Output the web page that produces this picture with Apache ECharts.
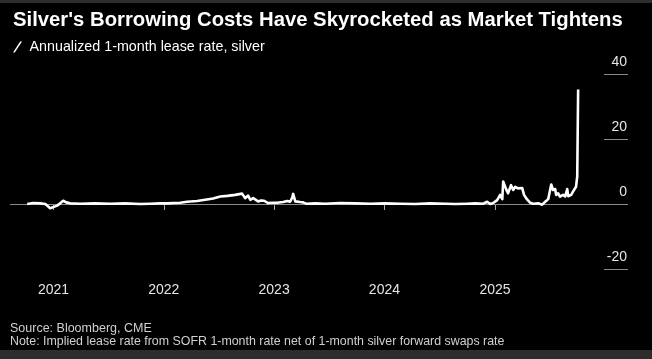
<!DOCTYPE html>
<html>
<head>
<meta charset="utf-8">
<style>
  html, body { margin: 0; padding: 0; background: #000; }
  #chart { width: 652px; height: 359px; }
</style>
<script src="https://cdn.jsdelivr.net/npm/echarts@6/dist/echarts.min.js"></script>
</head>
<body>
<div id="chart"></div>
<script>
// ---- Data ----
const titleText = "Silver's Borrowing Costs Have Skyrocketed as Market Tightens";
const seriesName = "Annualized 1-month lease rate, silver";
const sourceText = "Source: Bloomberg, CME";
const noteText = "Note: Implied lease rate from SOFR 1-month rate net of 1-month silver forward swaps rate";

const dates = [
  "2020-10-06","2020-10-26","2020-11-18","2020-12-05","2020-12-21","2021-01-13","2021-01-23","2021-02-02",
  "2021-02-12","2021-02-25","2021-03-30","2021-05-19","2021-07-08","2021-08-26","2021-10-15","2021-11-17",
  "2021-12-20","2022-01-12","2022-02-24","2022-03-19","2022-04-21","2022-05-18","2022-06-13","2022-07-07",
  "2022-07-30","2022-08-25","2022-09-17","2022-09-27","2022-10-07","2022-10-14","2022-10-24","2022-10-30",
  "2022-11-09","2022-11-19","2022-11-29","2022-12-12","2022-12-26","2023-01-11","2023-01-31","2023-02-13",
  "2023-02-23","2023-03-02","2023-03-05","2023-03-12","2023-03-18","2023-03-28","2023-04-07","2023-04-17",
  "2023-05-17","2023-06-19","2023-08-08","2023-09-26","2023-11-15","2024-01-03","2024-02-22","2024-04-12",
  "2024-05-31","2024-07-20","2024-08-22","2024-10-01","2024-10-27","2024-11-23","2024-12-06","2024-12-16",
  "2024-12-26","2025-01-08","2025-01-18","2025-01-25","2025-01-28","2025-02-07","2025-02-13","2025-02-23",
  "2025-03-02","2025-03-09","2025-03-18","2025-04-01","2025-04-07","2025-04-17","2025-04-27","2025-05-07",
  "2025-05-24","2025-06-06","2025-06-16","2025-06-26","2025-07-06","2025-07-12","2025-07-19","2025-07-22",
  "2025-07-29","2025-08-04","2025-08-14","2025-08-21","2025-08-28","2025-08-31","2025-09-10","2025-09-16",
  "2025-09-26","2025-09-30","2025-10-03"
];
const leaseRate = [
  0.0, 0.3, 0.2, 0.0, -1.3, -0.5, 0.2, 1.0,
  0.5, 0.2, 0.1, 0.2, 0.1, 0.2, 0.0, 0.1,
  0.2, 0.2, 0.4, 0.7, 0.9, 1.3, 1.7, 2.3,
  2.5, 2.8, 3.2, 1.8, 2.6, 1.3, 1.8, 2.0,
  0.8, 1.1, 1.0, 0.3, 0.4, 0.4, 0.6, 0.9,
  0.7, 2.0, 3.1, 0.8, 0.2, 0.6, 0.5, 0.1,
  0.2, 0.1, 0.3, 0.2, 0.1, 0.2, 0.1, 0.0,
  0.2, 0.1, 0.0, 0.1, 0.2, 0.1, 0.7, 0.0,
  0.3, 1.2, 2.8, 1.5, 6.9, 4.5, 3.3, 5.8,
  4.3, 5.3, 4.8, 4.9, 2.8, 1.4, 0.4, 0.1,
  0.2, -0.2, 0.7, 1.5, 6.0, 4.3, 4.6, 2.8,
  3.3, 2.3, 2.8, 2.3, 4.6, 2.4, 2.8, 3.8,
  5.3, 8.4, 35.2
];
const yearTicks = ["2021-01-01","2022-01-01","2023-01-01","2024-01-01","2025-01-01"];
const yTicks = [-20, 0, 20, 40];
const xRange = ["2020-08-10", "2026-03-17"];

// ---- Chart ----
const chart = echarts.init(document.getElementById('chart'), null, { renderer: 'canvas' });
const FONT = "'Liberation Sans', Arial, sans-serif";
const ts = d => Date.parse(d + "T00:00:00Z");
const tickTs = yearTicks.map(ts);
const lineData = dates.map((d, i) => [ts(d), leaseRate[i]]);

const option = {
  backgroundColor: '#000',
  animation: false,
  textStyle: { fontFamily: FONT },
  title: {
    text: titleText,
    left: 8, top: 5,
    textStyle: { color: '#fff', fontSize: 20.3, fontWeight: 'bold', fontFamily: FONT }
  },
  legend: {
    left: 8, top: 35,
    itemWidth: 10, itemHeight: 11, itemGap: 6,
    icon: 'path://M0,11 L1.8,11 L9,0 L7.2,0 Z',
    textStyle: { color: '#fff', fontSize: 14.3, fontFamily: FONT, padding: [0, 0, 0, 2] },
    data: [seriesName]
  },
  grid: [
    { left: 10, right: 24, top: 74, bottom: 90, containLabel: false },
    { left: 604, right: 24, top: 74, bottom: 90, containLabel: false }
  ],
  xAxis: [
    {
      type: 'value', gridIndex: 0,
      min: ts(xRange[0]), max: ts(xRange[1]),
      axisLine: { show: false },
      axisTick: { show: true, length: 6, lineStyle: { color: '#aaa', width: 1 }, customValues: tickTs },
      axisLabel: {
        color: '#e6e6e6', fontSize: 14, margin: 14, fontFamily: FONT,
        customValues: tickTs,
        formatter: v => String(new Date(v).getUTCFullYear())
      },
      splitLine: { show: false }
    },
    { type: 'value', gridIndex: 1, show: false, min: 0, max: 1 }
  ],
  yAxis: [
    { type: 'value', gridIndex: 0, min: -20, max: 40, interval: 20, show: false, splitLine: { show: false } },
    {
      type: 'value', gridIndex: 1, min: -20, max: 40, interval: 20, position: 'right',
      axisLine: { show: false }, axisTick: { show: false },
      splitLine: { show: true, lineStyle: { color: '#8a8a8a', width: 1 } },
      axisLabel: {
        inside: true, margin: 1, color: '#e6e6e6', fontSize: 14, fontFamily: FONT,
        verticalAlign: 'bottom', padding: [0, 0, 5, 0]
      }
    }
  ],
  series: [
    {
      name: seriesName, type: 'line', xAxisIndex: 0, yAxisIndex: 0,
      data: lineData, showSymbol: false, symbol: 'none',
      itemStyle: { color: '#ffffff' },
      lineStyle: { color: '#ffffff', width: 2.6, join: 'round' },
      z: 5,
      markLine: {
        silent: true, symbol: 'none', label: { show: false },
        lineStyle: { color: '#8a8a8a', width: 1, type: 'solid' },
        data: [{ yAxis: 0 }],
        z: 1
      }
    },
    { type: 'line', xAxisIndex: 1, yAxisIndex: 1, data: [], silent: true }
  ],
  graphic: [
    { type: 'rect', left: 0, top: 0, shape: { width: 652, height: 3 }, style: { fill: '#2d2d2d' } },
    { type: 'rect', left: 0, top: 350, shape: { width: 652, height: 9 }, style: { fill: '#2d2d2d' } },
    { type: 'text', left: 10, top: 322, style: { text: sourceText, fill: '#d0d0d0', font: "12.5px 'Liberation Sans', Arial, sans-serif" } },
    { type: 'text', left: 10, top: 336, style: { text: noteText, fill: '#d0d0d0', font: "12.4px 'Liberation Sans', Arial, sans-serif" } }
  ]
};
chart.setOption(option);
</script>
</body>
</html>
